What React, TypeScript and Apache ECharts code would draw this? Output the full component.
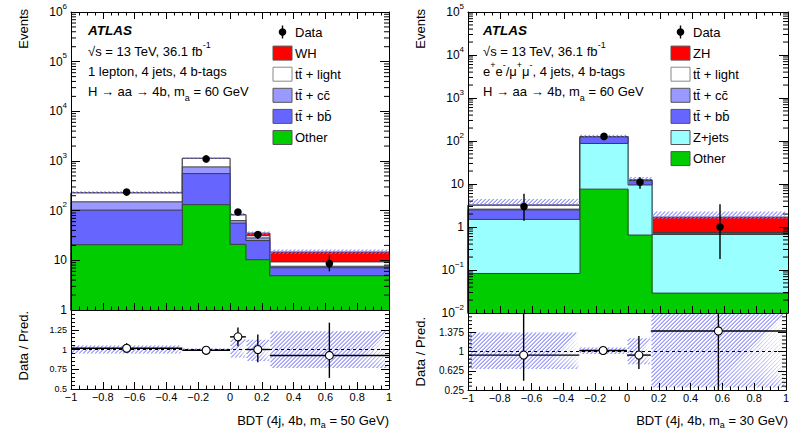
import React, { useEffect, useRef } from 'react';
import * as echarts from 'echarts';

const FONT = '"Liberation Sans", Arial, Helvetica, sans-serif';

// ---------- left panel: 1 lepton, 4 jets, 4 b-tags ----------
const leftEdges = [-1, -0.3, 0, 0.1, 0.25, 1];
const leftCenters = [-0.65, -0.15, 0.05, 0.175, 0.625];
const leftOther = [20.6, 132, 21, 10.3, 4.9];
const leftTtbb = [82, 426, 35, 14.7, 2.2];
const leftTtcc = [48, 202, 7, 3.3, 0.5];
const leftTtlight = [77, 370, 19, 3, 1.7];
const leftWH = [1.5, 4, 1, 4, 5.4];
const leftData = [237, 1100, 94, 33, 8.6];
const leftDataLo = [222, 1067, 84, 27, 6.0];
const leftDataHi = [252, 1133, 104, 39, 12.7];
const leftBandLo = [226, 1105, 79, 33, 13.5];
const leftBandHi = [246, 1180, 90, 38, 16.6];
const leftRatio = [1.016, 0.99, 1.16, 1.0, 0.925];
const leftRatioLo = [0.955, 0.96, 1.04, 0.84, 0.64];
const leftRatioHi = [1.08, 1.02, 1.28, 1.19, 1.34];
const leftRatioBandLo = [0.95, 0.985, 0.9, 0.855, 0.765];
const leftRatioBandHi = [1.05, 1.015, 1.13, 1.125, 1.23];
const leftXTitle = ['BDT (4j, 4b, m', 'a', ' = 50 GeV)'];

// ---------- right panel: 2 leptons, 4 jets, 4 b-tags ----------
const rightEdges = [-1, -0.3, 0, 0.15, 1];
const rightCenters = [-0.65, -0.15, 0.075, 0.575];
const rightOther = [0.083, 7.6, 0.65, 0.029];
const rightZjets = [1.42, 80, 8.85, 0.64];
const rightTtbb = [1.0, 37, 2.5, 0.05];
const rightTtcc = [0.1, 1, 0.1, 0.01];
const rightTtlight = [0.6, 1, 0.1, 0.02];
const rightZH = [0.05, 0.8, 0.3, 0.95];
const rightData = [3.0, 128, 11, 1.0];
const rightDataLo = [1.4, 117, 7.8, 0.18];
const rightDataHi = [5.9, 139, 14.3, 3.4];
const rightBandLo = [3.2, 126, 12.2, 1.55];
const rightBandHi = [4.5, 140, 14.5, 2.3];
const rightRatio = [0.93, 1.02, 0.93, 1.4];
const rightRatioLo = [0.43, 0.93, 0.66, 0.2];
const rightRatioHi = [2.0, 1.1, 1.3, 3.0];
const rightRatioBandLo = [0.66, 0.95, 0.75, 0.3];
const rightRatioBandHi = [1.37, 1.08, 1.26, 1.9];
const rightXTitle = ['BDT (4j, 4b, m', 'a', ' = 30 GeV)'];

const rightRatioTicks = [0.25, 0.625, 1, 1.375, 1.75];

const C_SIG = '#ff0000';
const C_LIGHT = '#ffffff';
const C_CC = '#9999ff';
const C_BB = '#6666ff';
const C_OTHER = '#00cc00';
const C_ZJ = '#99ffff';
const C_HATCH = '#8080ff';
const C_LINE = '#3c3c3c';

const leftLegend = [
  { name: 'WH', color: C_SIG },
  { name: 'tt\u0304 + light', color: C_LIGHT },
  { name: 'tt\u0304 + cc\u0304', color: C_CC },
  { name: 'tt\u0304 + bb\u0304', color: C_BB },
  { name: 'Other', color: C_OTHER },
];
const rightLegend = [
  { name: 'ZH', color: C_SIG },
  { name: 'tt\u0304 + light', color: C_LIGHT },
  { name: 'tt\u0304 + cc\u0304', color: C_CC },
  { name: 'tt\u0304 + bb\u0304', color: C_BB },
  { name: 'Z+jets', color: C_ZJ },
  { name: 'Other', color: C_OTHER },
];

const leftInfo = [
  '{n|\u221As = 13 TeV, 36.1 fb}{s|-1}',
  '{n|1 lepton, 4 jets, 4 b-tags}',
  '{n|H \u2192 aa \u2192 4b, m}{u|a}{n| = 60 GeV}',
];
const rightInfo = [
  '{n|\u221As = 13 TeV, 36.1 fb}{s|-1}',
  '{n|e}{s|+}{n|e}{s|-}{n|/\u03bc}{s|+}{n|\u03bc}{s|-}{n|, 4 jets, 4 b-tags}',
  '{n|H \u2192 aa \u2192 4b, m}{u|a}{n| = 60 GeV}',
];

const RICH = {
  n: { fontSize: 13, fontFamily: FONT, fill: '#000', color: '#000', lineHeight: 22, verticalAlign: 'middle' },
  s: { fontSize: 9, fontFamily: FONT, fill: '#000', color: '#000', lineHeight: 12, verticalAlign: 'top' },
  u: { fontSize: 9, fontFamily: FONT, fill: '#000', color: '#000', lineHeight: 12, verticalAlign: 'bottom' },
};
const TITLE_RICH = {
  n: { fontSize: 13, fontFamily: FONT, fill: '#000', color: '#000', lineHeight: 18, verticalAlign: 'middle' },
  u: { fontSize: 9, fontFamily: FONT, fill: '#000', color: '#000', lineHeight: 9, verticalAlign: 'bottom' },
};

const LOG_RICH = {
  b: { fontSize: 12, fontFamily: FONT, color: '#000', lineHeight: 20, verticalAlign: 'middle' },
  s: { fontSize: 8, fontFamily: FONT, color: '#000', lineHeight: 9, verticalAlign: 'top' },
};

function logLabel(v: number) {
  const e = Math.round(Math.log10(v));
  if (e === 0) return '{b|1}';
  if (e === 1) return '{b|10}';
  return `{b|10}{s|${e < 0 ? '\u2212' + -e : e}}`;
}

function fmtX(v: number) {
  const r = Math.round(v * 10) / 10;
  if (r === 0) return '0';
  return r < 0 ? '\u2212' + String(-r) : String(r);
}

// diagonal "///" hatch built from thin filled stripes
function hatch(x0: number, y0: number, x1: number, y1: number, sp: number) {
  const out: any[] = [];
  if (x1 <= x0 || y1 <= y0) return out;
  const d = 1.3;
  const cStart = Math.ceil((x0 + y0) / sp) * sp;
  for (let c = cStart; c <= x1 + y1; c += sp) {
    const xa = Math.max(x0, c - y1);
    const xb = Math.min(x1, c - y0);
    if (xb - xa > 0.3) {
      out.push({
        type: 'polygon',
        shape: {
          points: [
            [xa, c - xa],
            [xb, c - xb],
            [Math.min(xb + d, x1), c - xb],
            [Math.min(xa + d, x1), c - xa],
          ],
        },
        style: { fill: C_HATCH, stroke: 'none' },
      });
    }
  }
  return out;
}

type Layer = { color: string; values: number[] };

function cumulate(layers: Layer[]) {
  const res: { color: string; tops: number[] }[] = [];
  let run = layers[0].values.map(() => 0);
  for (const l of layers) {
    run = run.map((r, i) => r + l.values[i]);
    res.push({ color: l.color, tops: run.slice() });
  }
  return res.reverse();
}

function stackSeries(edges: number[], layers: Layer[], yMin: number, xi: number, yi: number) {
  return cumulate(layers).map((l) => ({
    type: 'custom',
    xAxisIndex: xi,
    yAxisIndex: yi,
    z: 2,
    silent: true,
    itemStyle: { color: l.color },
    encode: { x: [0, 1], y: [2, 3] },
    data: edges.slice(0, -1).map((x0, i) => [x0, edges[i + 1], l.tops[i], i === 0 ? yMin : l.tops[i - 1]]),
    renderItem: (params: any, api: any) => {
      const cs = params.coordSys;
      const top = cs.y;
      const bot = cs.y + cs.height;
      const cl = (y: number) => Math.max(top, Math.min(bot, y));
      const a = api.coord([api.value(0), api.value(2)]);
      const b = api.coord([api.value(1), api.value(2)]);
      const pv = api.coord([api.value(0), api.value(3)]);
      const yT = cl(a[1]);
      const xr = Math.min(b[0] + 0.6, cs.x + cs.width);
      return {
        type: 'group',
        children: [
          { type: 'rect', shape: { x: a[0], y: yT, width: xr - a[0], height: bot - yT }, style: { fill: l.color } },
          {
            type: 'polyline',
            shape: { points: [[a[0], cl(pv[1])], [a[0], yT], [b[0], yT]] },
            style: { stroke: C_LINE, lineWidth: 1, fill: 'none' },
          },
        ],
      };
    },
  }));
}

function bandSeries(edges: number[], lo: number[], hi: number[], xi: number, yi: number) {
  return {
    type: 'custom',
    xAxisIndex: xi,
    yAxisIndex: yi,
    z: 4,
    silent: true,
    itemStyle: { color: C_HATCH },
    encode: { x: [0, 1], y: [2, 3] },
    data: edges.slice(0, -1).map((x0, i) => [x0, edges[i + 1], lo[i], hi[i]]),
    renderItem: (params: any, api: any) => {
      const cs = params.coordSys;
      const cl = (y: number) => Math.max(cs.y, Math.min(cs.y + cs.height, y));
      const a = api.coord([api.value(0), api.value(3)]);
      const b = api.coord([api.value(1), api.value(2)]);
      return { type: 'group', children: hatch(a[0], cl(a[1]), b[0], cl(b[1]), 4) };
    },
  };
}

function dataSeries(xs: number[], v: number[], lo: number[], hi: number[], xi: number, yi: number) {
  return {
    type: 'custom',
    xAxisIndex: xi,
    yAxisIndex: yi,
    z: 6,
    silent: true,
    itemStyle: { color: '#000' },
    encode: { x: 0, y: [1, 2, 3] },
    data: xs.map((x, i) => [x, v[i], lo[i], hi[i]]),
    renderItem: (params: any, api: any) => {
      const cs = params.coordSys;
      const cl = (y: number) => Math.max(cs.y, Math.min(cs.y + cs.height, y));
      const p = api.coord([api.value(0), api.value(1)]);
      const l = api.coord([api.value(0), api.value(2)]);
      const h = api.coord([api.value(0), api.value(3)]);
      return {
        type: 'group',
        children: [
          { type: 'line', shape: { x1: p[0], y1: cl(l[1]), x2: p[0], y2: cl(h[1]) }, style: { stroke: '#000', lineWidth: 1.4 } },
          { type: 'circle', shape: { cx: p[0], cy: p[1], r: 3.8 }, style: { fill: '#000' } },
        ],
      };
    },
  };
}

function ratioSeries(edges: number[], xs: number[], v: number[], lo: number[], hi: number[], xi: number, yi: number) {
  return {
    type: 'custom',
    xAxisIndex: xi,
    yAxisIndex: yi,
    z: 6,
    silent: true,
    itemStyle: { color: '#000' },
    encode: { x: [0, 1, 2], y: [3, 4, 5] },
    data: xs.map((x, i) => [edges[i], edges[i + 1], x, v[i], lo[i], hi[i]]),
    renderItem: (params: any, api: any) => {
      const cs = params.coordSys;
      const cl = (y: number) => Math.max(cs.y, Math.min(cs.y + cs.height, y));
      const p = api.coord([api.value(2), api.value(3)]);
      const a = api.coord([api.value(0), api.value(3)]);
      const b = api.coord([api.value(1), api.value(3)]);
      const l = api.coord([api.value(2), api.value(4)]);
      const h = api.coord([api.value(2), api.value(5)]);
      return {
        type: 'group',
        children: [
          { type: 'line', shape: { x1: a[0], y1: p[1], x2: b[0], y2: p[1] }, style: { stroke: '#000', lineWidth: 1.4 } },
          { type: 'line', shape: { x1: p[0], y1: cl(l[1]), x2: p[0], y2: cl(h[1]) }, style: { stroke: '#000', lineWidth: 1.4 } },
          { type: 'circle', shape: { cx: p[0], cy: p[1], r: 4 }, style: { fill: '#fff', stroke: '#000', lineWidth: 1.1 } },
        ],
      };
    },
  };
}

function unityLine(xi: number, yi: number) {
  return {
    type: 'custom',
    xAxisIndex: xi,
    yAxisIndex: yi,
    z: 5,
    silent: true,
    itemStyle: { color: '#000' },
    encode: { x: [0, 1], y: 2 },
    data: [[-1, 1, 1]],
    renderItem: (params: any, api: any) => {
      const a = api.coord([api.value(0), api.value(2)]);
      const b = api.coord([api.value(1), api.value(2)]);
      return {
        type: 'line',
        shape: { x1: a[0], y1: a[1], x2: b[0], y2: b[1] },
        style: { stroke: '#000', lineWidth: 1, lineDash: [3, 3] },
      };
    },
  };
}

function minorTickSeries(values: number[], len: number, xi: number, yi: number) {
  return {
    type: 'custom',
    xAxisIndex: xi,
    yAxisIndex: yi,
    z: 12,
    silent: true,
    itemStyle: { color: '#000' },
    encode: { x: 0, y: 1 },
    data: values.map((v) => [0, v]),
    renderItem: (params: any, api: any) => {
      const cs = params.coordSys;
      const y = api.coord([0, api.value(1)])[1];
      if (y < cs.y - 0.5 || y > cs.y + cs.height + 0.5) return { type: 'group', children: [] };
      return {
        type: 'group',
        children: [
          { type: 'line', shape: { x1: cs.x, y1: y, x2: cs.x + len, y2: y }, style: { stroke: '#000', lineWidth: 1 } },
          { type: 'line', shape: { x1: cs.x + cs.width - len, y1: y, x2: cs.x + cs.width, y2: y }, style: { stroke: '#000', lineWidth: 1 } },
        ],
      };
    },
  };
}

function logMinors(e0: number, e1: number) {
  const out: number[] = [];
  for (let e = e0; e < e1; e++) for (let m = 2; m <= 9; m++) out.push(m * Math.pow(10, e));
  return out;
}

function linMinors(ticks: number[], n: number) {
  const out: number[] = [];
  for (let i = 0; i < ticks.length - 1; i++) {
    const st = (ticks[i + 1] - ticks[i]) / n;
    for (let k = 1; k < n; k++) out.push(ticks[i] + st * k);
  }
  return out;
}

const AX_LINE = { show: true, onZero: false, lineStyle: { color: '#000', width: 1 } };

function xAx(grid: number, pos: string, labels: boolean, len: number) {
  return {
    type: 'value',
    gridIndex: grid,
    position: pos,
    min: -1,
    max: 1,
    interval: 0.2,
    z: 10,
    axisLine: AX_LINE,
    axisTick: { show: true, inside: true, length: len, lineStyle: { color: '#000' } },
    minorTick: { show: true, splitNumber: 4, length: len / 2, lineStyle: { color: '#000' } },
    splitLine: { show: false },
    minorSplitLine: { show: false },
    axisLabel: labels
      ? { show: true, margin: 2, fontSize: 11, fontFamily: FONT, color: '#000', formatter: fmtX, showMinLabel: true, showMaxLabel: true }
      : { show: false },
  };
}

function yLog(grid: number, pos: string, labels: boolean, min: number, max: number, n: number) {
  return {
    type: 'log',
    logBase: 10,
    gridIndex: grid,
    position: pos,
    min,
    max,
    splitNumber: n,
    z: 10,
    axisLine: AX_LINE,
    axisTick: { show: true, inside: true, length: 9, lineStyle: { color: '#000' } },
    splitLine: { show: false },
    axisLabel: labels
      ? { show: true, margin: 4, formatter: logLabel, rich: LOG_RICH, showMinLabel: true, showMaxLabel: true }
      : { show: false },
  };
}

function App() {
  const ref = useRef<HTMLDivElement>(null);
  useEffect(() => {
    document.body.style.margin = '0';
    if (!ref.current) return;
    const chart = echarts.init(ref.current, undefined, { renderer: 'svg' });

    const leftLayers: Layer[] = [
      { color: C_OTHER, values: leftOther },
      { color: C_BB, values: leftTtbb },
      { color: C_CC, values: leftTtcc },
      { color: C_LIGHT, values: leftTtlight },
      { color: C_SIG, values: leftWH },
    ];
    const rightLayers: Layer[] = [
      { color: C_OTHER, values: rightOther },
      { color: C_ZJ, values: rightZjets },
      { color: C_BB, values: rightTtbb },
      { color: C_CC, values: rightTtcc },
      { color: C_LIGHT, values: rightTtlight },
      { color: C_SIG, values: rightZH },
    ];

    const graphics: any[] = [];
    const addText = (x: number, y: number, text: string, extra: any = {}) =>
      graphics.push({
        type: 'text',
        x,
        y,
        z: 100,
        silent: true,
        ...extra,
        style: { text, fontSize: 13, fontFamily: FONT, fill: '#000', verticalAlign: 'middle', ...(extra.style || {}) },
      });

    const info = (x0: number, lines: string[]) => {
      addText(x0, 30.5, 'ATLAS', { style: { fontWeight: 'bold', fontStyle: 'italic', fontSize: 13.5 } });
      lines.forEach((t, i) => addText(x0, 51.5 + i * 19.8, t, { style: { rich: RICH } }));
    };
    info(88, leftInfo);
    info(483, rightInfo);

    const legend = (bx: number, tx: number, items: { name: string; color: string }[]) => {
      const y0 = 32;
      const dy = 21.1;
      graphics.push({ type: 'line', z: 100, shape: { x1: bx + 9.5, y1: y0 - 6.5, x2: bx + 9.5, y2: y0 + 6.5 }, style: { stroke: '#000', lineWidth: 1.4 } });
      graphics.push({ type: 'circle', z: 100, shape: { cx: bx + 9.5, cy: y0, r: 3.8 }, style: { fill: '#000' } });
      addText(tx, y0, 'Data');
      items.forEach((it, i) => {
        const y = y0 + dy * (i + 1);
        graphics.push({
          type: 'rect',
          z: 100,
          shape: { x: bx, y: y - 7, width: 19, height: 14 },
          style: { fill: it.color, stroke: it.color === C_LIGHT ? '#888' : '#555', lineWidth: 1 },
        });
        addText(tx, y, it.name);
      });
    };
    legend(273, 295, leftLegend);
    legend(671, 693, rightLegend);

    const rot = { rotation: Math.PI / 2 };
    addText(23.5, 9, 'Events', { ...rot, style: { align: 'right' } });
    addText(420.5, 9, 'Events', { ...rot, style: { align: 'right' } });
    addText(23.5, 311, 'Data / Pred.', { ...rot, style: { align: 'right' } });
    addText(420.5, 317, 'Data / Pred.', { ...rot, style: { align: 'right' } });
    const xt = (p: string[]) => `{n|${p[0]}}{u|${p[1]}}{n|${p[2]}}`;
    addText(389, 420.5, xt(leftXTitle), { style: { align: 'right', rich: TITLE_RICH } });
    addText(788, 420.5, xt(rightXTitle), { style: { align: 'right', rich: TITLE_RICH } });

    const option: any = {
      animation: false,
      textStyle: { fontFamily: FONT },
      grid: [
        { left: 71, top: 12, width: 318, height: 298 },
        { left: 71, top: 310, width: 318, height: 79 },
        { left: 468, top: 12, width: 320, height: 301 },
        { left: 468, top: 313, width: 320, height: 77 },
      ],
      xAxis: [
        xAx(0, 'bottom', false, 7),
        xAx(0, 'top', false, 7),
        xAx(1, 'bottom', true, 7),
        xAx(2, 'bottom', false, 7),
        xAx(2, 'top', false, 7),
        xAx(3, 'bottom', true, 7),
      ],
      yAxis: [
        yLog(0, 'left', true, 1, 1e6, 6),
        yLog(0, 'right', false, 1, 1e6, 6),
        {
          type: 'value', gridIndex: 1, position: 'left', min: 0.5, max: 1.5, interval: 0.25, z: 10,
          axisLine: AX_LINE,
          axisTick: { show: true, inside: true, length: 8, lineStyle: { color: '#000' } },
          minorTick: { show: true, splitNumber: 5, length: 4, lineStyle: { color: '#000' } },
          splitLine: { show: false }, minorSplitLine: { show: false },
          axisLabel: { show: true, margin: 4, fontSize: 9, fontFamily: FONT, color: '#000', showMaxLabel: true, showMinLabel: true, formatter: (v: number) => (v >= 1.5 ? '' : String(v)) },
        },
        {
          type: 'value', gridIndex: 1, position: 'right', min: 0.5, max: 1.5, interval: 0.25, z: 10,
          axisLine: AX_LINE,
          axisTick: { show: true, inside: true, length: 8, lineStyle: { color: '#000' } },
          minorTick: { show: true, splitNumber: 5, length: 4, lineStyle: { color: '#000' } },
          splitLine: { show: false }, minorSplitLine: { show: false },
          axisLabel: { show: false },
        },
        yLog(2, 'left', true, 0.01, 1e5, 7),
        yLog(2, 'right', false, 0.01, 1e5, 7),
        {
          type: 'value', gridIndex: 3, position: 'left', min: 0.25, max: 1.75, z: 10,
          axisLine: AX_LINE,
          axisTick: { show: true, inside: true, length: 8, lineStyle: { color: '#000' }, customValues: rightRatioTicks },
          splitLine: { show: false },
          axisLabel: { show: true, margin: 4, fontSize: 10, fontFamily: FONT, color: '#000', customValues: rightRatioTicks.slice(0, 4), formatter: (v: number) => String(v) },
        },
        {
          type: 'value', gridIndex: 3, position: 'right', min: 0.25, max: 1.75, z: 10,
          axisLine: AX_LINE,
          axisTick: { show: true, inside: true, length: 8, lineStyle: { color: '#000' }, customValues: rightRatioTicks },
          splitLine: { show: false },
          axisLabel: { show: false },
        },
      ],
      series: [
        ...stackSeries(leftEdges, leftLayers, 1, 0, 0),
        bandSeries(leftEdges, leftBandLo, leftBandHi, 0, 0),
        dataSeries(leftCenters, leftData, leftDataLo, leftDataHi, 0, 0),
        minorTickSeries(logMinors(0, 6), 5, 0, 0),
        bandSeries(leftEdges, leftRatioBandLo, leftRatioBandHi, 2, 2),
        unityLine(2, 2),
        ratioSeries(leftEdges, leftCenters, leftRatio, leftRatioLo, leftRatioHi, 2, 2),
        ...stackSeries(rightEdges, rightLayers, 0.01, 3, 4),
        bandSeries(rightEdges, rightBandLo, rightBandHi, 3, 4),
        dataSeries(rightCenters, rightData, rightDataLo, rightDataHi, 3, 4),
        minorTickSeries(logMinors(-2, 5), 5, 3, 4),
        bandSeries(rightEdges, rightRatioBandLo, rightRatioBandHi, 5, 6),
        unityLine(5, 6),
        ratioSeries(rightEdges, rightCenters, rightRatio, rightRatioLo, rightRatioHi, 5, 6),
        minorTickSeries(linMinors(rightRatioTicks, 5), 4, 5, 6),
      ],
      graphic: graphics,
    };
    chart.setOption(option);
    return () => chart.dispose();
  }, []);
  return <div ref={ref} style={{ width: 792, height: 431 }} />;
}

export default App;
